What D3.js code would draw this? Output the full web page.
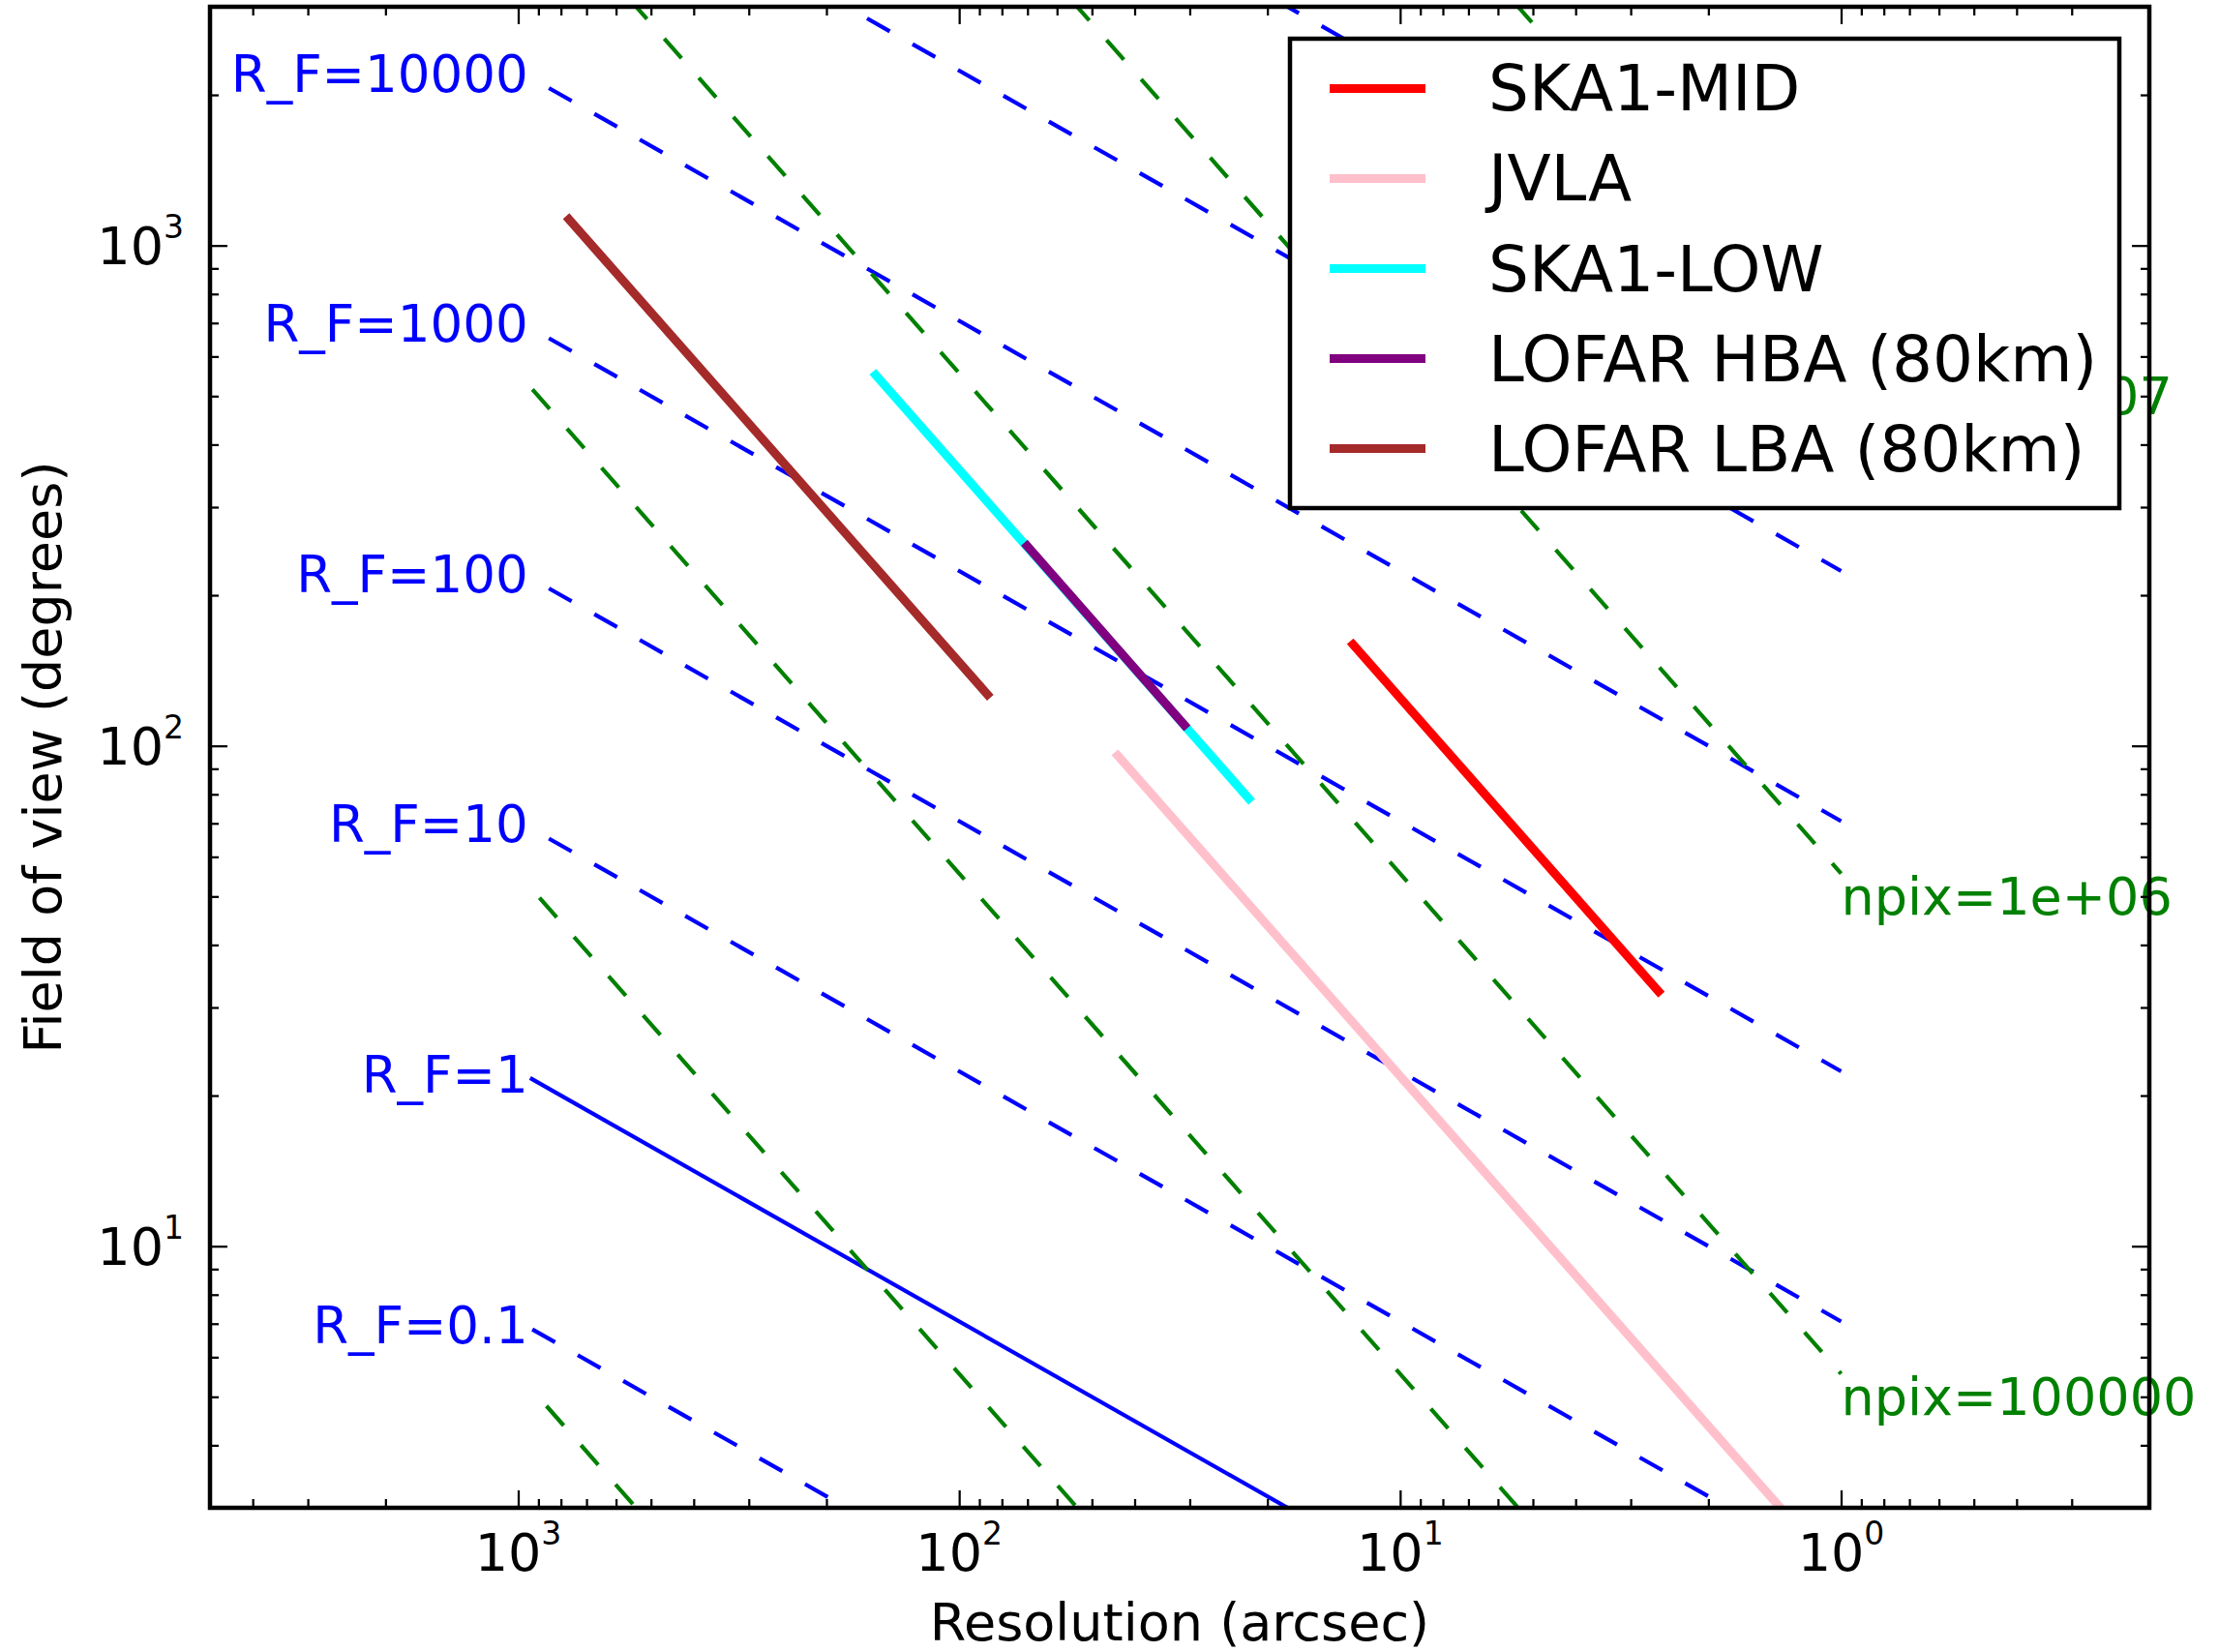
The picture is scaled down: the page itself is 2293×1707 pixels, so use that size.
<!DOCTYPE html>
<html><head><meta charset="utf-8">
<script src="https://cdn.jsdelivr.net/npm/d3@7"></script>
<style>body{margin:0;background:#fff} svg{display:block} text{font-family:"DejaVu Sans",sans-serif}</style>
</head><body><svg id="c" width="2293" height="1707"></svg>
<script>
// ---- data ----
const rfValues   = [0.1, 1, 10, 100, 1000, 10000, 100000, 1000000];
const rfStartRes = [929, 940, 852, 852, 852, 852, 852, 852];
const rfStartFov = [6.82, 21.68, 65.27, 206.4, 652.7, 2064, 6527, 20640];
const rfEndRes   = [1, 1, 1, 1, 1, 1, 1, 1];
const rfEndFov   = [0.2236, 0.7071, 2.236, 7.071, 22.36, 70.71, 223.6, 707.1];
const rfDashed   = [true, false, true, true, true, true, true, true];
const rfLabels   = ["R_F=0.1", "R_F=1", "R_F=10", "R_F=100", "R_F=1000", "R_F=10000"];
const rfLabelRes = [950, 950, 950, 950, 950, 950];
const rfLabelFov = [7.07, 22.36, 70.71, 223.6, 707.1, 2236];

const npixValues   = [100, 1000, 10000, 100000, 1000000, 10000000];
const npixStartRes = [863, 895, 928.5, 960, 995, 1030];
const npixStartFov = [4.794, 49.72, 515.8, 5333, 55280, 572200];
const npixEndRes   = [1, 1, 1, 1, 1, 1];
const npixEndFov   = [0.005556, 0.05556, 0.5556, 5.556, 55.56, 555.6];
const npixLabels   = ["npix=100000", "npix=1e+06", "npix=1e+07"];
const npixLabelRes = [1, 1, 1];
const npixLabelFov = [5.556, 55.56, 555.6];

const telNames    = ["SKA1-MID", "JVLA", "SKA1-LOW", "LOFAR HBA (80km)", "LOFAR LBA (80km)"];
const telColors   = ["#ff0000", "#ffc0cb", "#00ffff", "#800080", "#a52a2a"];
const telStartRes = [12.79, 43.7, 154.7, 70.1, 767];
const telStartFov = [159.4, 95.6, 551, 250.8, 1128];
const telEndRes   = [2.594, 0.874, 22.04, 30.86, 86.3];
const telEndFov   = [32.3, 1.91, 78.5, 110.1, 126.7];

const xMajor = [1000, 100, 10, 1];
const xMajorExp = ["3", "2", "1", "0"];
const yMajor = [10, 100, 1000];
const yMajorExp = ["1", "2", "3"];

// ---- layout ----
const W = 2293, H = 1707;
const L = 217, R = 2221, T = 7, B = 1558;
const svg = d3.select("#c");
svg.append("rect").attr("width", W).attr("height", H).attr("fill", "#fff");

const x = d3.scaleLog().domain([5000, 0.2]).range([L, R]);
const y = d3.scaleLog().domain([3, 3000]).range([B, T]);

svg.append("defs").append("clipPath").attr("id", "clip")
  .append("rect").attr("x", L).attr("y", T).attr("width", R - L).attr("height", B - T);
const plot = svg.append("g").attr("clip-path", "url(#clip)");
const line = d3.line().x(d => x(d[0])).y(d => y(d[1]));

// R_F lines
rfValues.forEach((v, i) => {
  plot.append("path")
    .attr("d", line([[rfStartRes[i], rfStartFov[i]], [rfEndRes[i], rfEndFov[i]]]))
    .attr("fill", "none").attr("stroke", "#0000ff").attr("stroke-width", 4.2)
    .attr("stroke-dasharray", rfDashed[i] ? "27,27" : null);
});
// npix lines
npixValues.forEach((v, i) => {
  plot.append("path")
    .attr("d", line([[npixStartRes[i], npixStartFov[i]], [npixEndRes[i], npixEndFov[i]]]))
    .attr("fill", "none").attr("stroke", "#008000").attr("stroke-width", 4.2)
    .attr("stroke-dasharray", "27,27");
});
// telescopes
telNames.forEach((n, i) => {
  plot.append("path")
    .attr("d", line([[telStartRes[i], telStartFov[i]], [telEndRes[i], telEndFov[i]]]))
    .attr("fill", "none").attr("stroke", telColors[i]).attr("stroke-width", 9)
    .attr("stroke-linecap", "square");
});

// labels for lines
rfLabels.forEach((t, i) => {
  svg.append("text").attr("x", x(rfLabelRes[i])).attr("y", y(rfLabelFov[i]) + 22)
    .attr("text-anchor", "end").attr("font-size", 53).attr("fill", "#0000ff").text(t);
});
npixLabels.forEach((t, i) => {
  svg.append("text").attr("x", x(npixLabelRes[i])).attr("y", y(npixLabelFov[i]) + 42)
    .attr("text-anchor", "start").attr("font-size", 54).attr("fill", "#008000").text(t);
});

// ---- axes ----
const isPow10 = t => Math.abs(Math.log10(t) - Math.round(Math.log10(t))) < 1e-6;
const xMinor = x.ticks().filter(t => !isPow10(t));
const yMinor = y.ticks().filter(t => !isPow10(t));
function addAxis(fn, scale, vals, size, tr) {
  svg.append("g").attr("transform", tr)
    .call(fn(scale).tickValues(vals).tickSize(-size).tickFormat(""))
    .call(g => { g.select(".domain").remove();
                 g.selectAll("line").attr("stroke", "#000").attr("stroke-width", 2.25); });
}
addAxis(d3.axisBottom, x, xMajor, 18, `translate(0,${B})`);
addAxis(d3.axisBottom, x, xMinor, 9, `translate(0,${B})`);
addAxis(d3.axisTop, x, xMajor, 18, `translate(0,${T})`);
addAxis(d3.axisTop, x, xMinor, 9, `translate(0,${T})`);
addAxis(d3.axisLeft, y, yMajor, 18, `translate(${L},0)`);
addAxis(d3.axisLeft, y, yMinor, 9, `translate(${L},0)`);
addAxis(d3.axisRight, y, yMajor, 18, `translate(${R},0)`);
addAxis(d3.axisRight, y, yMinor, 9, `translate(${R},0)`);

svg.append("rect").attr("x", L).attr("y", T).attr("width", R - L).attr("height", B - T)
  .attr("fill", "none").attr("stroke", "#000").attr("stroke-width", 4.5);

// tick labels
xMajor.forEach((v, i) => {
  const t = svg.append("text").attr("x", x(v)).attr("y", 1623)
    .attr("text-anchor", "middle").attr("font-size", 54).attr("fill", "#000");
  t.append("tspan").text("10");
  t.append("tspan").attr("font-size", 33).attr("dy", -27).text(xMajorExp[i]);
});
yMajor.forEach((v, i) => {
  const t = svg.append("text").attr("x", 190).attr("y", y(v) + 19)
    .attr("text-anchor", "end").attr("font-size", 54).attr("fill", "#000");
  t.append("tspan").text("10");
  t.append("tspan").attr("font-size", 33).attr("dy", -27).text(yMajorExp[i]);
});

// axis titles
svg.append("text").attr("x", (L + R) / 2).attr("y", 1695).attr("text-anchor", "middle")
  .attr("font-size", 54).text("Resolution (arcsec)");
svg.append("text").attr("transform", `translate(63,${(T + B) / 2}) rotate(-90)`)
  .attr("text-anchor", "middle").attr("font-size", 54).text("Field of view (degrees)");

// ---- legend ----
const lg = svg.append("g");
lg.append("rect").attr("x", 1333).attr("y", 40).attr("width", 857).attr("height", 485)
  .attr("fill", "#fff").attr("stroke", "#000").attr("stroke-width", 4.5);
telNames.forEach((n, i) => {
  const cy = 91.4 + i * 93.05;
  lg.append("line").attr("x1", 1374).attr("x2", 1473).attr("y1", cy).attr("y2", cy)
    .attr("stroke", telColors[i]).attr("stroke-width", 9);
  lg.append("text").attr("x", 1538).attr("y", cy + 23).attr("font-size", 66).attr("fill", "#000").text(n);
});
</script></body></html>
